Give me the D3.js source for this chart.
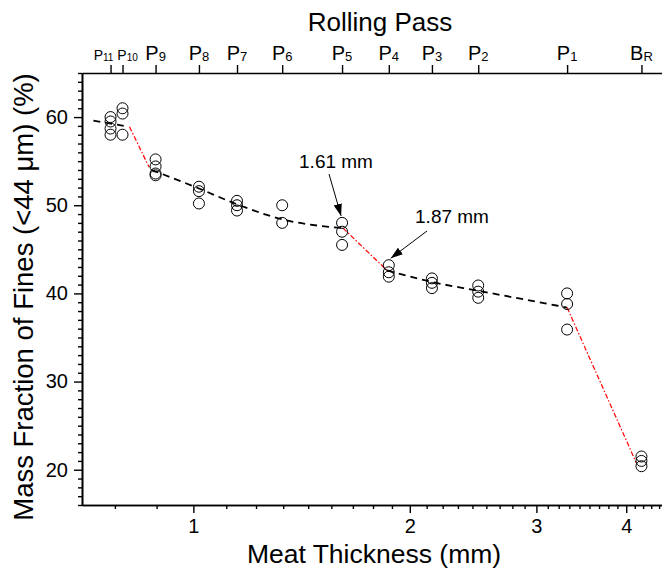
<!DOCTYPE html>
<html>
<head>
<meta charset="utf-8">
<script src="https://cdn.jsdelivr.net/npm/d3@7"></script>
<style>
  html, body { margin: 0; padding: 0; background: #fff; }
  svg { display: block; font-family: "Liberation Sans", Arial, sans-serif; }
</style>
</head>
<body>
<svg id="chart" width="662" height="572"></svg>
<script>
// Rolling passes (top axis) and the meat thickness after each pass (mm)
const passMain = ["P", "P", "P", "P", "P", "P", "P", "P", "P", "P", "P", "B"];
const passSub = ["11", "10", "9", "8", "7", "6", "5", "4", "3", "2", "1", "R"];
const passThickness = [0.767, 0.797, 0.886, 1.018, 1.150, 1.329, 1.61, 1.87, 2.147, 2.49, 3.31, 4.20];

// Mass fraction of fines (<44 um), % — replicate measurements for each pass
const finesP11 = [60.0, 59.5, 58.7, 58.0];
const finesP10 = [61.0, 60.4, 58.0];
const finesP9 = [55.2, 54.4, 53.6, 53.4];
const finesP8 = [52.1, 51.6, 50.2];
const finesP7 = [50.5, 50.0, 49.4];
const finesP6 = [50.0, 48.0];
const finesP5 = [48.0, 47.0, 45.5];
const finesP4 = [43.2, 42.4, 41.9];
const finesP3 = [41.7, 41.2, 40.6];
const finesP2 = [40.9, 40.2, 39.5];
const finesP1 = [40.0, 38.8, 35.9];
const finesBR = [21.5, 21.0, 20.4];
const finesByPass = [finesP11, finesP10, finesP9, finesP8, finesP7, finesP6,
                     finesP5, finesP4, finesP3, finesP2, finesP1, finesBR];

// Trend segments: [thickness mm, fines %]
const trendA = [[0.726, 59.6], [0.80, 59.0]];
const trendB = [[0.875, 54.0], [1.018, 51.9], [1.15, 50.1], [1.33, 48.4], [1.615, 47.4]];
const trendC = [[1.86, 42.6], [2.147, 41.3], [2.49, 40.3], [3.31, 38.4]];
const jumpA = [[0.815, 58.9], [0.868, 54.3]];
const jumpB = [[1.615, 47.4], [1.86, 42.6]];
const jumpC = [[3.31, 38.4], [4.13, 20.8]];

// Annotated transition thicknesses
const noteText = ["1.61 mm", "1.87 mm"];
const noteThickness = [1.61, 1.87];
const noteValue = [48.0, 43.2];

// Axis ticks
const xMajor = [1, 2, 3, 4];
const yMajor = [20, 30, 40, 50, 60];

const svg = d3.select("#chart");
const plotLeft = 82, plotRight = 663, plotTop = 73, plotBottom = 505;

const x = d3.scaleLog().domain([0.7, 4.5]).range([plotLeft, plotRight]);
const y = d3.scaleLinear().domain([16, 65]).range([plotBottom, plotTop]);

// minor ticks: eight per major interval, evenly spaced in value
const xMinor = [];
for (let n = 0; n <= 4; n++) {
  for (let k = 1; k <= 8; k++) {
    const v = n + k / 9;
    if (v >= 0.7 && v <= 4.5) xMinor.push(v);
  }
}
const yMinor = d3.range(16, 66).filter(v => !yMajor.includes(v));

function styleAxis(g) {
  g.selectAll("path.domain").attr("stroke", "#000").attr("stroke-width", 1.6);
  g.selectAll(".tick line").attr("stroke", "#000").attr("stroke-width", 1.4);
  g.selectAll(".tick text").attr("fill", "#000").attr("font-size", 20)
    .attr("font-family", "Liberation Sans, Arial, sans-serif");
}

// bottom axis
svg.append("g").attr("transform", `translate(0,${plotBottom})`)
  .call(d3.axisBottom(x).tickValues(xMinor).tickSize(4).tickSizeOuter(0).tickFormat(""))
  .call(styleAxis);
svg.append("g").attr("transform", `translate(0,${plotBottom})`)
  .call(d3.axisBottom(x).tickValues(xMajor).tickSize(8).tickSizeOuter(0).tickPadding(6).tickFormat(d3.format("d")))
  .call(styleAxis);

// left axis
svg.append("g").attr("transform", `translate(${plotLeft},0)`)
  .call(d3.axisLeft(y).tickValues(yMinor).tickSize(4).tickSizeOuter(0).tickFormat(""))
  .call(styleAxis);
svg.append("g").attr("transform", `translate(${plotLeft},0)`)
  .call(d3.axisLeft(y).tickValues(yMajor).tickSize(8).tickSizeOuter(0).tickPadding(6))
  .call(styleAxis);

// top axis: rolling passes
svg.append("g").attr("transform", `translate(0,${plotTop})`)
  .call(d3.axisTop(x).tickValues(passThickness).tickSize(8).tickSizeOuter(0).tickFormat(""))
  .call(styleAxis);

// the two closely spaced first passes get smaller labels nudged apart
const passLabels = svg.append("g");
passThickness.forEach((t, i) => {
  const small = i < 2;
  const nudge = i === 0 ? -7 : (i === 1 ? 5 : 0);
  const txt = passLabels.append("text")
    .attr("x", x(t) + nudge).attr("y", 60)
    .attr("text-anchor", "middle")
    .attr("fill", "#000");
  txt.append("tspan").attr("font-size", small ? 14 : 20).text(passMain[i]);
  txt.append("tspan").attr("font-size", small ? 10 : 13).attr("dy", 1).text(passSub[i]);
});

// axis titles
svg.append("text").attr("x", 380).attr("y", 31).attr("text-anchor", "middle")
  .attr("font-size", 26).attr("fill", "#000").text("Rolling Pass");
svg.append("text").attr("x", 374).attr("y", 563).attr("text-anchor", "middle")
  .attr("font-size", 26.5).attr("fill", "#000").text("Meat Thickness (mm)");
svg.append("text")
  .attr("transform", `translate(33,297) rotate(-90)`)
  .attr("text-anchor", "middle")
  .attr("font-size", 27.5).attr("fill", "#000")
  .text("Mass Fraction of Fines (<44 μm) (%)");

// trend lines
const line = d3.line().x(d => x(d[0])).y(d => y(d[1])).curve(d3.curveMonotoneX);
[trendA, trendB, trendC].forEach(seg => {
  svg.append("path").datum(seg).attr("d", line)
    .attr("fill", "none").attr("stroke", "#000")
    .attr("stroke-width", 1.8).attr("stroke-dasharray", "7,5");
});
[jumpA, jumpB, jumpC].forEach(seg => {
  svg.append("path").datum(seg).attr("d", line)
    .attr("fill", "none").attr("stroke", "#ff0000")
    .attr("stroke-width", 1.2).attr("stroke-dasharray", "5,2,1.5,2");
});

// measured points
const points = [];
finesByPass.forEach((vals, i) => vals.forEach(v => points.push([passThickness[i], v])));
svg.append("g").selectAll("circle").data(points).join("circle")
  .attr("cx", d => x(d[0])).attr("cy", d => y(d[1])).attr("r", 5.5)
  .attr("fill", "none").attr("stroke", "#000").attr("stroke-width", 1);

// annotations with arrows
const defs = svg.append("defs");
defs.append("marker").attr("id", "arrowHead")
  .attr("viewBox", "0 0 10 10").attr("refX", 10).attr("refY", 5)
  .attr("markerWidth", 12).attr("markerHeight", 12)
  .attr("markerUnits", "userSpaceOnUse")
  .attr("orient", "auto")
  .append("path").attr("d", "M0,1.5 L10,5 L0,8.5 Z").attr("fill", "#000");

const noteLabelPos = [[336, 168], [452, 223]];
const noteTail = [[329, 174], [427, 231]];
noteText.forEach((t, i) => {
  svg.append("text").attr("x", noteLabelPos[i][0]).attr("y", noteLabelPos[i][1])
    .attr("text-anchor", "middle").attr("font-size", 19).attr("fill", "#000").text(t);
  const tipX = x(noteThickness[i]) - (i === 0 ? 1 : -2);
  const tipY = y(noteValue[i]) - 7;
  svg.append("line")
    .attr("x1", noteTail[i][0]).attr("y1", noteTail[i][1])
    .attr("x2", tipX).attr("y2", tipY)
    .attr("stroke", "#000").attr("stroke-width", 1)
    .attr("marker-end", "url(#arrowHead)");
});
</script>
</body>
</html>
